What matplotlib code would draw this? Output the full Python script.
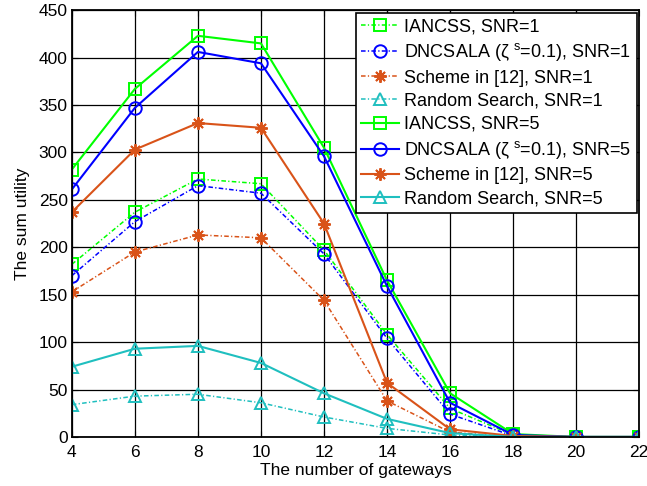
import matplotlib
matplotlib.use('Agg')
import matplotlib.pyplot as plt

gateways = [4, 6, 8, 10, 12, 14, 16, 18, 20, 22]

iancss_snr1 = [182, 237, 272, 267, 197, 108, 30, 2, 0, 0]
dncsala_snr1 = [170, 227, 265, 257, 193, 104, 24, 1, 0, 0]
scheme_snr1 = [153, 195, 213, 210, 144, 38, 5, 0, 0, 0]
random_snr1 = [34, 43, 45, 36, 21, 9, 2, 0, 0, 0]

iancss_snr5 = [282, 367, 423, 415, 305, 165, 46, 3, 0, 0]
dncsala_snr5 = [261, 347, 406, 394, 296, 159, 36, 2, 0, 0]
scheme_snr5 = [237, 303, 331, 326, 225, 57, 8, 1, 0, 0]
random_snr5 = [74, 93, 96, 78, 46, 19, 4, 0, 0, 0]

labels = [
    'IANCSS, SNR=1',
    'DNCSALA (ζ $^{s}$=0.1), SNR=1',
    'Scheme in [12], SNR=1',
    'Random Search, SNR=1',
    'IANCSS, SNR=5',
    'DNCSALA (ζ $^{s}$=0.1), SNR=5',
    'Scheme in [12], SNR=5',
    'Random Search, SNR=5',
]

green = '#00ff00'
blue = '#0000ff'
orange = '#d95319'
cyan = '#1fbfbf'

plt.rcParams['font.family'] = ['Liberation Sans', 'DejaVu Sans']
plt.rcParams['mathtext.fontset'] = 'custom'
plt.rcParams['mathtext.rm'] = 'Liberation Sans'
plt.rcParams['mathtext.it'] = 'Liberation Sans'

fs = 12.5

fig, ax = plt.subplots(figsize=(6.47, 4.86), dpi=100)
fig.subplots_adjust(left=0.111, right=0.988, top=0.979, bottom=0.101)

dashdot = (0, (3, 1.5, 0.8, 1.5))
series = [
    (iancss_snr1, green, 's', dashdot, 1.1, 8),
    (dncsala_snr1, blue, 'o', dashdot, 1.1, 9),
    (scheme_snr1, orange, (8, 2, 0), dashdot, 1.1, 9),
    (random_snr1, cyan, '^', dashdot, 1.1, 9),
    (iancss_snr5, green, 's', '-', 1.5, 8),
    (dncsala_snr5, blue, 'o', '-', 1.5, 9),
    (scheme_snr5, orange, (8, 2, 0), '-', 1.5, 9),
    (random_snr5, cyan, '^', '-', 1.5, 9),
]
for (vals, col, mk, ls, lw, ms), lab in zip(series, labels):
    ax.plot(gateways, vals, color=col, marker=mk, linestyle=ls, linewidth=lw,
            markersize=ms, markerfacecolor='none', markeredgecolor=col,
            markeredgewidth=1.4, label=lab)

ax.set_xlim(4, 22)
ax.set_ylim(0, 450)
ax.set_xticks(range(4, 23, 2))
ax.set_yticks(range(0, 451, 50))
ax.grid(True, color='black', linewidth=0.9)
ax.set_axisbelow(True)
ax.tick_params(direction='in', labelsize=fs, top=True, right=True, length=4)
ax.tick_params(axis='x', pad=6)
ax.tick_params(axis='y', pad=3)
for sp in ax.spines.values():
    sp.set_linewidth(1.3)
ax.set_xlabel('The number of gateways', fontsize=fs, labelpad=2)
ax.set_ylabel('The sum utility', fontsize=fs, labelpad=6)

leg = ax.legend(loc='upper right', fontsize=13, handlelength=2.1, handletextpad=0.25,
                labelspacing=0.34, borderpad=0.3, borderaxespad=0.15, fancybox=False,
                framealpha=1, edgecolor='black')
leg.get_frame().set_linewidth(1.2)

fig.savefig('out.png', dpi=100)
